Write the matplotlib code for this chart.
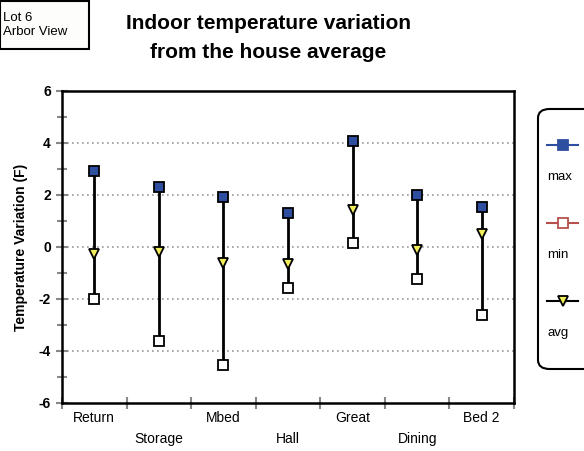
import matplotlib.pyplot as plt
from matplotlib.patches import FancyBboxPatch, Rectangle
from matplotlib.lines import Line2D
import numpy as np

plt.rcParams['font.family'] = ['Liberation Sans', 'DejaVu Sans']

rooms = ['Return', 'Storage', 'Mbed', 'Hall', 'Great', 'Dining', 'Bed 2']
t_max = [2.93, 2.31, 1.92, 1.31, 4.08, 2.00, 1.55]
t_min = [-2.00, -3.60, -4.55, -1.57, 0.15, -1.22, -2.60]
t_avg = [-0.25, -0.19, -0.60, -0.65, 1.42, -0.13, 0.49]

BLUE = '#2E4FA0'
RED = '#B5504C'
YELLOW = '#F2EE5A'

fig = plt.figure(figsize=(5.84, 4.51), dpi=100)
ax = fig.add_axes([62 / 584, 48 / 451, 452 / 584, 312 / 451])

x = np.arange(len(rooms))
ax.vlines(x, t_min, t_max, color='black', lw=2, zorder=2)
ax.plot(x, t_max, 's', ms=7, mfc=BLUE, mec='black', mew=1.3, ls='none', zorder=3)
ax.plot(x, t_min, 's', ms=7, mfc='white', mec='black', mew=1.3, ls='none', zorder=3)
ax.plot(x, t_avg, 'v', ms=7, mfc=YELLOW, mec='black', mew=1.3, ls='none', zorder=4)

ax.set_xlim(-0.5, len(rooms) - 0.5)
ax.set_ylim(-6, 6)
ax.set_yticks(np.arange(-6, 7, 2))
ax.set_yticks(np.arange(-5, 6, 2), minor=True)
ax.set_yticklabels([str(v) for v in range(-6, 7, 2)], fontweight='bold', fontsize=10)
for yv in [-4, -2, 0, 2, 4]:
    ax.axhline(yv, color='#999999', ls=(0, (1, 2)), lw=1.2, zorder=1)

ax.set_xticks(np.arange(-0.5, len(rooms), 1.0))
ax.set_xticklabels([])
ax.set_xticks(x, minor=True)
ax.set_xticklabels(rooms, minor=True, fontsize=10)
ax.tick_params(axis='x', which='minor', length=0, pad=6)
for i, lab in enumerate(ax.get_xticklabels(minor=True)):
    if i % 2 == 1:
        lab.set_y(-0.065)

ax.tick_params(axis='both', which='major', direction='inout', length=9, width=1.5, color='#888888')
ax.tick_params(axis='y', which='minor', direction='inout', length=7, width=1.5, color='#888888')
for s in ax.spines.values():
    s.set_linewidth(1.8)

ax.set_ylabel('Temperature Variation (F)', fontweight='bold', fontsize=10, labelpad=8)

fig.text(268 / 584, 1 - 38 / 451, 'Indoor temperature variation\nfrom the house average',
         ha='center', va='center', fontsize=15, fontweight='bold', linespacing=1.7)

# label box top-left
fig.patches.append(Rectangle((0, 1 - 49 / 451), 89 / 584, 48 / 451, transform=fig.transFigure,
                             fc='#FDFDFB', ec='black', lw=1.5))
fig.text(3 / 584, 1 - 25 / 451, 'Lot 6\nArbor View', ha='left', va='center', fontsize=9.5,
         linespacing=1.15)

# legend
fig.patches.append(FancyBboxPatch((538 / 584, 1 - 369 / 451), 70 / 584, 260 / 451,
                                  boxstyle='round,pad=0,rounding_size=0.02',
                                  transform=fig.transFigure, fc='white', ec='black', lw=1.5))
entries = [('max', BLUE, 's', BLUE, BLUE), ('min', RED, 's', 'white', RED),
           ('avg', 'black', 'v', YELLOW, 'black')]
for k, (name, lc, mk, mfc, mec) in enumerate(entries):
    yl = 1 - (145 + 78 * k) / 451
    fig.lines.append(Line2D([547 / 584, 578 / 584], [yl, yl], transform=fig.transFigure,
                            color=lc, lw=1.5))
    fig.lines.append(Line2D([563 / 584], [yl], transform=fig.transFigure, marker=mk, ms=7,
                            mfc=mfc, mec=mec, mew=1.3, ls='none'))
    fig.text(547 / 584, yl - 32 / 451, name, ha='left', va='center', fontsize=9.5)

fig.savefig('out.png', dpi=100)
